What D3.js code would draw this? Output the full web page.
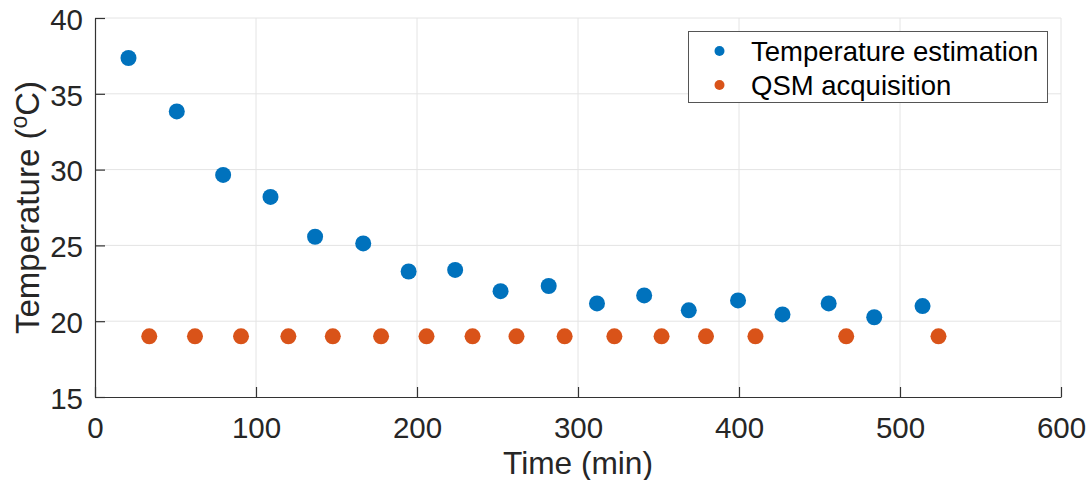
<!DOCTYPE html>
<html>
<head>
<meta charset="utf-8">
<script src="https://cdn.jsdelivr.net/npm/d3@7"></script>
<style>
  html, body { margin: 0; padding: 0; background: #fff; }
  svg { display: block; font-family: "Liberation Sans", Arial, Helvetica, sans-serif; }
</style>
</head>
<body>
<svg id="chart" width="1088" height="480"></svg>
<script>
// ---- data ----
const estTime = [20.8, 50.8, 79.6, 109.0, 136.7, 166.6, 194.8, 223.7, 251.9, 281.8, 311.8, 341.1, 368.8, 399.4, 427.0, 455.7, 484.0, 514.0];
const estTemp = [37.36, 33.84, 29.65, 28.2, 25.57, 25.13, 23.28, 23.38, 21.98, 22.32, 21.17, 21.7, 20.72, 21.37, 20.45, 21.17, 20.26, 21.0];
const qsmTime = [33.7, 62.1, 90.7, 120.1, 147.7, 177.7, 205.9, 234.5, 261.8, 291.7, 322.6, 351.9, 379.5, 410.2, 466.6, 523.9];
const qsmTemp = [19, 19, 19, 19, 19, 19, 19, 19, 19, 19, 19, 19, 19, 19, 19, 19];
const xTicks = [0, 100, 200, 300, 400, 500, 600];
const yTicks = [15, 20, 25, 30, 35, 40];
const seriesNames = ["Temperature estimation", "QSM acquisition"];
const seriesColors = ["#0072BD", "#D95319"];

// ---- layout ----
const svg = d3.select("#chart");
const L = 95, R = 1061, T = 18, B = 397;
const x = d3.scaleLinear().domain([0, 600]).range([L, R]);
const y = d3.scaleLinear().domain([15, 40]).range([B, T]);

// grid
const grid = svg.append("g").attr("stroke", "#e4e4e4").attr("stroke-width", 1);
grid.selectAll("line.vx").data(xTicks.filter(d => d > 0)).join("line")
  .attr("x1", d => x(d)).attr("x2", d => x(d)).attr("y1", T).attr("y2", B);
grid.selectAll("line.hy").data(yTicks.filter(d => d > 15)).join("line")
  .attr("x1", L).attr("x2", R).attr("y1", d => y(d)).attr("y2", d => y(d));

// axes
const axColor = "#333333";
const xAxis = svg.append("g").attr("transform", `translate(0,${B})`)
  .call(d3.axisBottom(x).tickValues(xTicks).tickSizeInner(-10).tickSizeOuter(0).tickPadding(20));
const yAxis = svg.append("g").attr("transform", `translate(${L},0)`)
  .call(d3.axisLeft(y).tickValues(yTicks).tickSizeInner(-10).tickSizeOuter(0).tickPadding(12));
[xAxis, yAxis].forEach(a => {
  a.select(".domain").attr("stroke", axColor).attr("stroke-width", 1.2);
  a.selectAll(".tick line").attr("stroke", axColor).attr("stroke-width", 1.2);
  a.selectAll(".tick text").attr("fill", "#262626").style("font-size", "29.5px")
    .style("font-family", '"Liberation Sans", Arial, sans-serif');
});
yAxis.selectAll(".tick text").attr("dy", "0.38em");

// points
svg.append("g").selectAll("circle").data(estTime.map((t, i) => [t, estTemp[i]])).join("circle")
  .attr("cx", d => x(d[0])).attr("cy", d => y(d[1])).attr("r", 8).attr("fill", seriesColors[0]);
svg.append("g").selectAll("circle").data(qsmTime.map((t, i) => [t, qsmTemp[i]])).join("circle")
  .attr("cx", d => x(d[0])).attr("cy", d => y(d[1])).attr("r", 8).attr("fill", seriesColors[1]);

// axis labels
svg.append("text").attr("x", (L + R) / 2).attr("y", 474).attr("text-anchor", "middle")
  .attr("fill", "#262626").style("font-size", "32px")
  .attr("textLength", 150).attr("lengthAdjust", "spacingAndGlyphs")
  .text("Time (min)");

const yl = svg.append("text").attr("transform", `translate(39,${(T + B) / 2}) rotate(-90)`)
  .attr("text-anchor", "middle").attr("fill", "#262626").style("font-size", "33px");
yl.append("tspan").text("Temperature (");
yl.append("tspan").attr("dy", -12).style("font-size", "23px").text("o");
yl.append("tspan").attr("dy", 12).text("C)");

// legend
const lg = svg.append("g");
lg.append("rect").attr("x", 688.5).attr("y", 31.5).attr("width", 359).attr("height", 71)
  .attr("fill", "#fff").attr("stroke", "#555").attr("stroke-width", 1);
seriesNames.forEach((name, i) => {
  const cy = 51 + i * 34;
  lg.append("circle").attr("cx", 719.5).attr("cy", cy).attr("r", 5).attr("fill", seriesColors[i]);
  lg.append("text").attr("x", 751).attr("y", cy + 10).attr("fill", "#000")
    .style("font-size", "27.5px").text(name);
});
</script>
</body>
</html>
